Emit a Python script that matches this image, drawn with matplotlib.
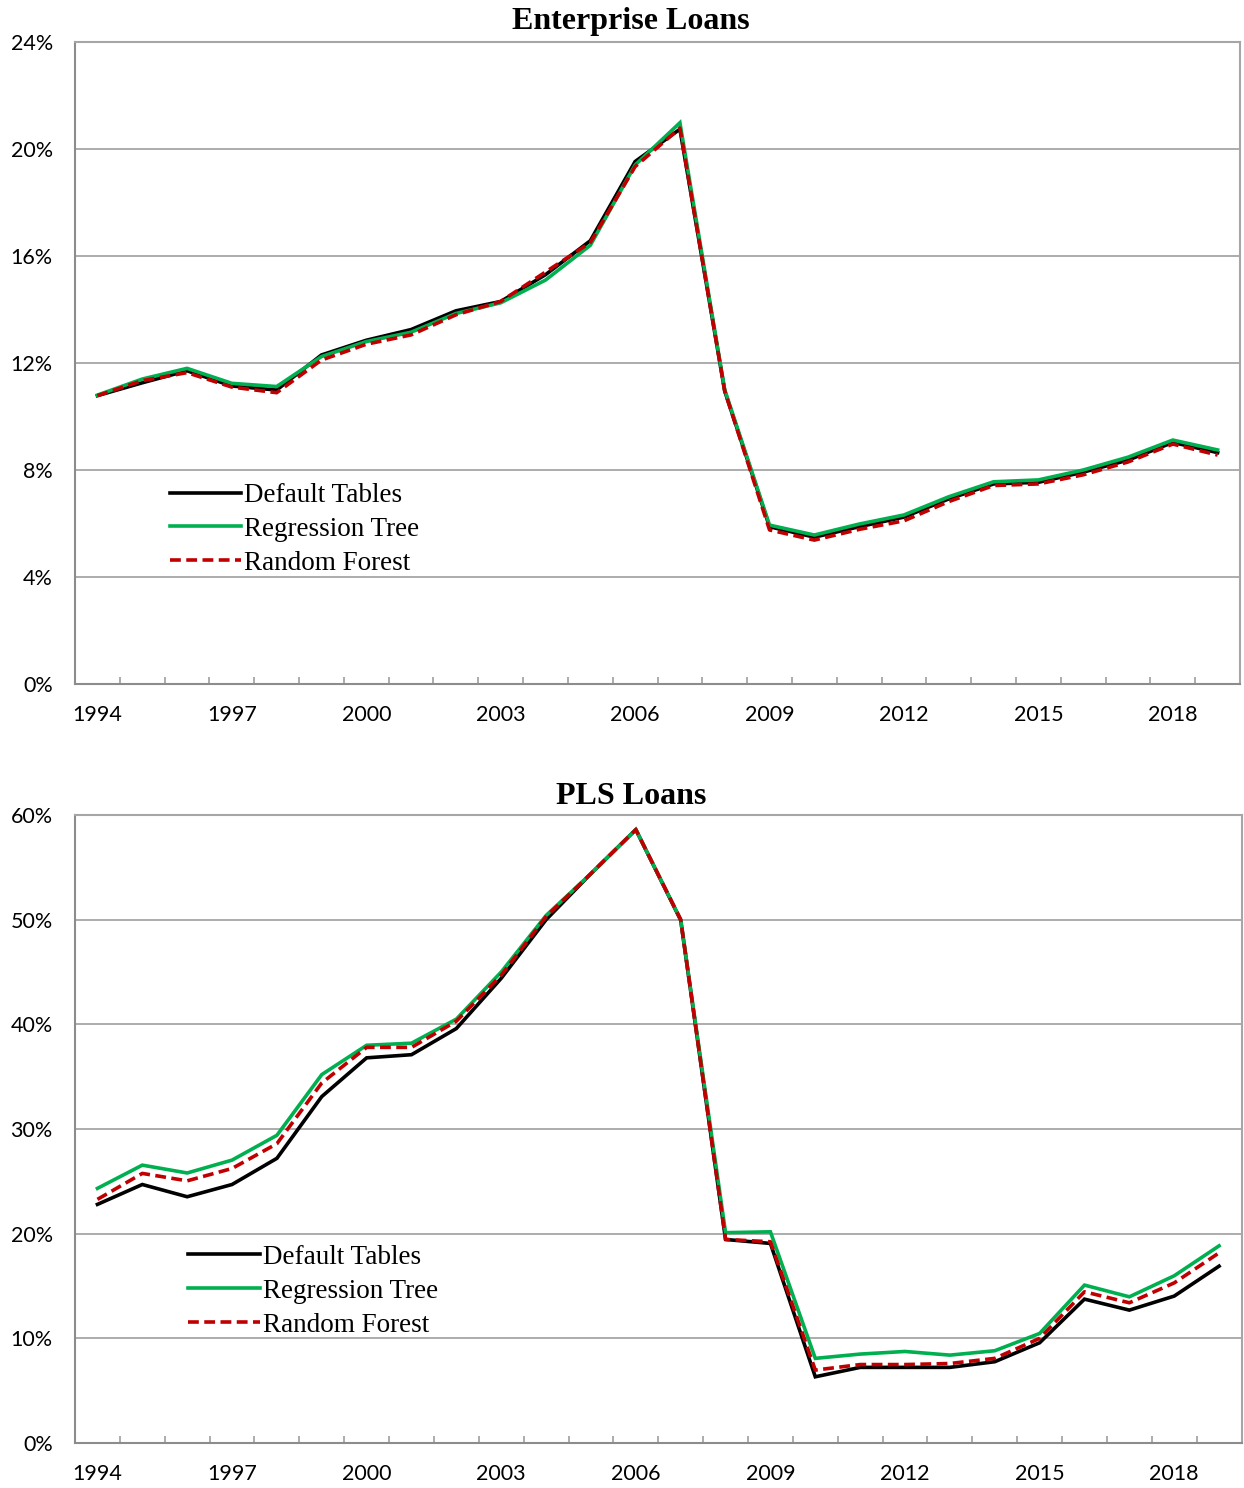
import matplotlib
matplotlib.use("Agg")
import matplotlib.pyplot as plt
from matplotlib.ticker import FixedLocator, FuncFormatter

# ─────────────────────────────────────────────────────────────
# Data (percent)
# ─────────────────────────────────────────────────────────────
years = list(range(1994, 2020))
label_years = list(range(1994, 2019, 3))

ent_default = [10.78, 11.26, 11.71, 11.14, 10.99, 12.3, 12.85, 13.25, 13.95, 14.3,
               15.3, 16.57, 19.53, 20.74, 10.95, 5.88, 5.49, 5.88, 6.24, 6.92,
               7.48, 7.54, 7.92, 8.37, 9.03, 8.65]
ent_tree = [10.8, 11.4, 11.8, 11.24, 11.12, 12.24, 12.8, 13.15, 13.85, 14.25,
            15.1, 16.4, 19.4, 20.98, 11.0, 5.94, 5.57, 5.98, 6.32, 7.0,
            7.56, 7.63, 8.0, 8.48, 9.12, 8.75]
ent_forest = [10.78, 11.34, 11.64, 11.1, 10.89, 12.11, 12.7, 13.05, 13.8, 14.3,
              15.4, 16.5, 19.34, 20.78, 10.95, 5.76, 5.38, 5.78, 6.1, 6.82,
              7.42, 7.48, 7.82, 8.3, 8.97, 8.56]

pls_default = [22.8, 24.7, 23.53, 24.7, 27.2, 33.1, 36.8, 37.1, 39.6, 44.4,
               50.0, 54.4, 58.6, 49.95, 19.45, 19.07, 6.33, 7.23, 7.23, 7.23,
               7.77, 9.58, 13.75, 12.7, 14.04, 16.9]
pls_tree = [24.33, 26.55, 25.8, 27.03, 29.4, 35.2, 38.0, 38.2, 40.5, 45.0,
            50.4, 54.4, 58.6, 50.0, 20.1, 20.18, 8.09, 8.5, 8.75, 8.4,
            8.82, 10.47, 15.09, 13.97, 15.98, 18.84]
pls_forest = [23.28, 25.76, 25.05, 26.23, 28.6, 34.4, 37.8, 37.8, 40.3, 44.7,
              50.3, 54.4, 58.6, 50.0, 19.45, 19.23, 6.97, 7.5, 7.5, 7.6,
              8.09, 10.0, 14.45, 13.4, 15.3, 18.17]

series_names = ["Default Tables", "Regression Tree", "Random Forest"]

# ─────────────────────────────────────────────────────────────
# Styling
# ─────────────────────────────────────────────────────────────
GRID = "#A6A6A6"
TICK_FONT = ["Lato", "DejaVu Sans"]
SERIF = ["Liberation Serif", "DejaVu Serif"]

fig = plt.figure(figsize=(12.44, 14.88), dpi=100)
ax_top = fig.add_axes([0.0603, 0.5403, 0.9365, 0.4315])
ax_bot = fig.add_axes([0.0603, 0.0302, 0.9377, 0.4221])


def draw_panel(ax, default, tree, forest, ymax, ystep, title, title_y, legend_anchor):
    ax.plot(years, default, color="black", lw=2.6, label=series_names[0],
            solid_joinstyle="miter", zorder=3)
    ax.plot(years, tree, color="#00B050", lw=2.6, label=series_names[1],
            solid_joinstyle="miter", zorder=4)
    ax.plot(years, forest, color="#C00000", lw=2.6, ls=(0, (3.0, 1.5)),
            label=series_names[2], zorder=5)

    ax.set_xlim(1993.5, 2019.5)
    ax.set_ylim(0, ymax)

    ax.yaxis.set_major_locator(FixedLocator(list(range(0, ymax + 1, ystep))))
    ax.yaxis.set_major_formatter(FuncFormatter(lambda v, p: f"{v:.0f}%"))
    ax.xaxis.set_major_locator(FixedLocator(label_years))
    ax.xaxis.set_major_formatter(FuncFormatter(lambda v, p: f"{int(v)}"))
    ax.xaxis.set_minor_locator(FixedLocator([y + 0.5 for y in years[:-1]]))

    ax.tick_params(axis="y", length=0, pad=16, labelsize=15.5)
    ax.tick_params(axis="x", which="major", length=0, pad=15, labelsize=15.5)
    ax.tick_params(axis="x", which="minor", direction="in", length=5,
                   width=1.3, color=GRID)
    for lab in ax.get_xticklabels() + ax.get_yticklabels():
        lab.set_family(TICK_FONT)

    ax.grid(axis="y", color=GRID, lw=1.3, zorder=0)
    ax.set_axisbelow(True)
    for s in ax.spines.values():
        s.set_color(GRID)
        s.set_linewidth(1.5)
    ax.spines["left"].set_color("#8C8C8C")
    ax.spines["bottom"].set_color("#8C8C8C")

    ax.legend(loc="upper left", bbox_to_anchor=legend_anchor,
              frameon=False, handlelength=2.65, handletextpad=0.1,
              labelspacing=0.33, borderaxespad=0,
              prop={"family": SERIF, "size": 19.5})
    fig.text(631 / 1244, title_y, title, ha="center", va="center",
             family=SERIF, fontweight="bold", fontsize=23)


draw_panel(ax_top, ent_default, ent_tree, ent_forest, 24, 4,
           "Enterprise Loans", 1 - 22 / 1488, (0.072, 0.33))
draw_panel(ax_bot, pls_default, pls_tree, pls_forest, 60, 10,
           "PLS Loans", 1 - 797 / 1488, (0.088, 0.333))

fig.savefig("out.png", dpi=100)
